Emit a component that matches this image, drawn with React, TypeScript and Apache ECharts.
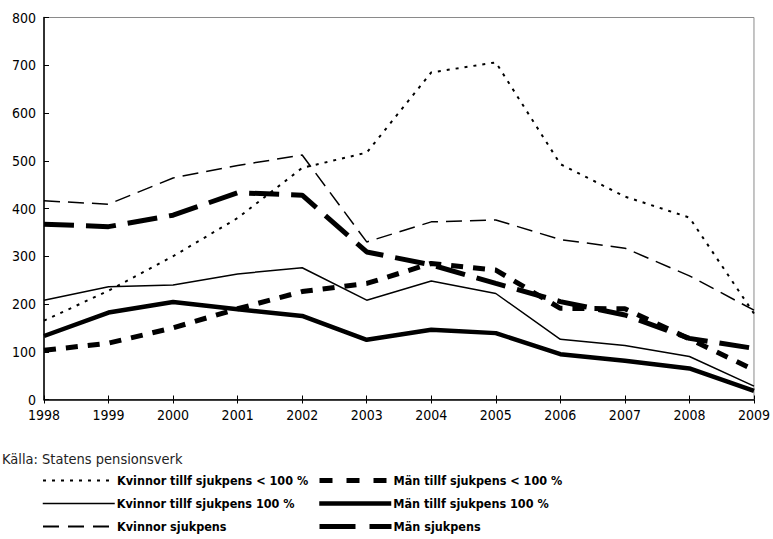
import React, { useEffect, useRef } from "react";
import * as echarts from "echarts";

const years = ["1998", "1999", "2000", "2001", "2002", "2003", "2004", "2005", "2006", "2007", "2008", "2009"];
const kvinnorTillfUnder100 = [165, 228, 300, 380, 485, 517, 685, 706, 493, 425, 381, 180];
const manTillfUnder100 = [103, 118, 150, 190, 226, 243, 285, 271, 191, 190, 127, 62];
const kvinnorTillf100 = [208, 236, 240, 263, 276, 208, 248, 222, 126, 113, 90, 28];
const manTillf100 = [133, 182, 204, 189, 175, 125, 146, 139, 95, 81, 65, 18];
const kvinnorSjukpens = [416, 409, 464, 490, 512, 330, 372, 376, 335, 317, 259, 187];
const manSjukpens = [367, 362, 386, 433, 428, 309, 282, 243, 205, 177, 128, 107];

const names = {
  kTU: "Kvinnor tillf sjukpens < 100 %",
  mTU: "Män tillf sjukpens < 100 %",
  kT: "Kvinnor tillf sjukpens 100 %",
  mT: "Män tillf sjukpens 100 %",
  kS: "Kvinnor sjukpens",
  mS: "Män sjukpens",
};

const FONT = "'DejaVu Sans Condensed', 'Liberation Sans Narrow', sans-serif";

export default function App() {
  const ref = useRef<HTMLDivElement>(null);
  useEffect(() => {
    if (!ref.current) return;
    const chart = echarts.init(ref.current, undefined, { renderer: "svg" });
    const line = (name: string, data: number[], width: number, type: any) => ({
      name,
      type: "line",
      data,
      showSymbol: false,
      symbol: "none",
      lineStyle: { color: "#000", width, type, cap: "butt" },
      itemStyle: { color: "#000" },
    });
    const leg = (name: string, left: number, top: number, width: number, type: any) => ({
      data: [name],
      left,
      top,
      padding: 0,
      itemWidth: 72,
      itemHeight: 12,
      itemGap: 0,
      selectedMode: false,
      itemStyle: { opacity: 0 },
      lineStyle: { width, type, color: "#000", cap: "butt" },
      textStyle: { fontFamily: FONT, fontWeight: "bold", fontSize: 12.5, color: "#000", padding: [0, 0, 0, -3] },
    });
    chart.setOption({
      animation: false,
      backgroundColor: "#fff",
      grid: {
        left: 44,
        right: 17,
        top: 17.5,
        bottom: 139.5,
        show: true,
        borderColor: "#8a8a8a",
        borderWidth: 1,
      },
      xAxis: [
        {
          type: "category",
          data: years,
          boundaryGap: false,
          axisLine: { lineStyle: { color: "#000", width: 1.5 } },
          axisTick: { show: true, inside: false, length: 4, lineStyle: { color: "#000" } },
          axisLabel: { fontFamily: FONT, fontSize: 14, color: "#000", margin: 8 },
          splitLine: { show: false },
        },
        {
          type: "category",
          data: years,
          position: "bottom",
          boundaryGap: false,
          axisLine: { show: false },
          axisTick: { show: true, inside: true, length: 4, lineStyle: { color: "#000" } },
          axisLabel: { show: false },
          splitLine: { show: false },
        },
      ],
      yAxis: {
        type: "value",
        min: 0,
        max: 800,
        interval: 100,
        axisLine: { show: true, lineStyle: { color: "#000", width: 1.5 } },
        axisTick: { show: true, inside: true, length: 5, lineStyle: { color: "#000" } },
        axisLabel: { fontFamily: FONT, fontSize: 14, color: "#000", margin: 8 },
        splitLine: { show: false },
      },
      legend: [
        leg(names.kTU, 42, 474, 2, [3, 6]),
        leg(names.kT, 42, 497, 1.5, "solid"),
        leg(names.kS, 42, 520, 2, [16, 9]),
        leg(names.mTU, 317, 474, 5, [13, 14]),
        leg(names.mT, 317, 497, 4.5, "solid"),
        leg(names.mS, 317, 520, 5, [36, 14]),
      ],
      graphic: [
        {
          type: "text",
          left: 2,
          top: 451,
          style: { text: "Källa: Statens pensionsverk", fontFamily: FONT, fontSize: 14.5, fill: "#222" },
        },
      ],
      series: [
        line(names.kTU, kvinnorTillfUnder100, 2, [3, 6]),
        line(names.mTU, manTillfUnder100, 5, [12, 10]),
        line(names.kT, kvinnorTillf100, 1.5, "solid"),
        line(names.mT, manTillf100, 4.5, "solid"),
        line(names.kS, kvinnorSjukpens, 1.5, [16, 8]),
        line(names.mS, manSjukpens, 5, [30, 12]),
      ],
    });
    return () => chart.dispose();
  }, []);
  return <div ref={ref} style={{ width: 773, height: 539, position: "absolute", left: 0, top: 0 }} />;
}
